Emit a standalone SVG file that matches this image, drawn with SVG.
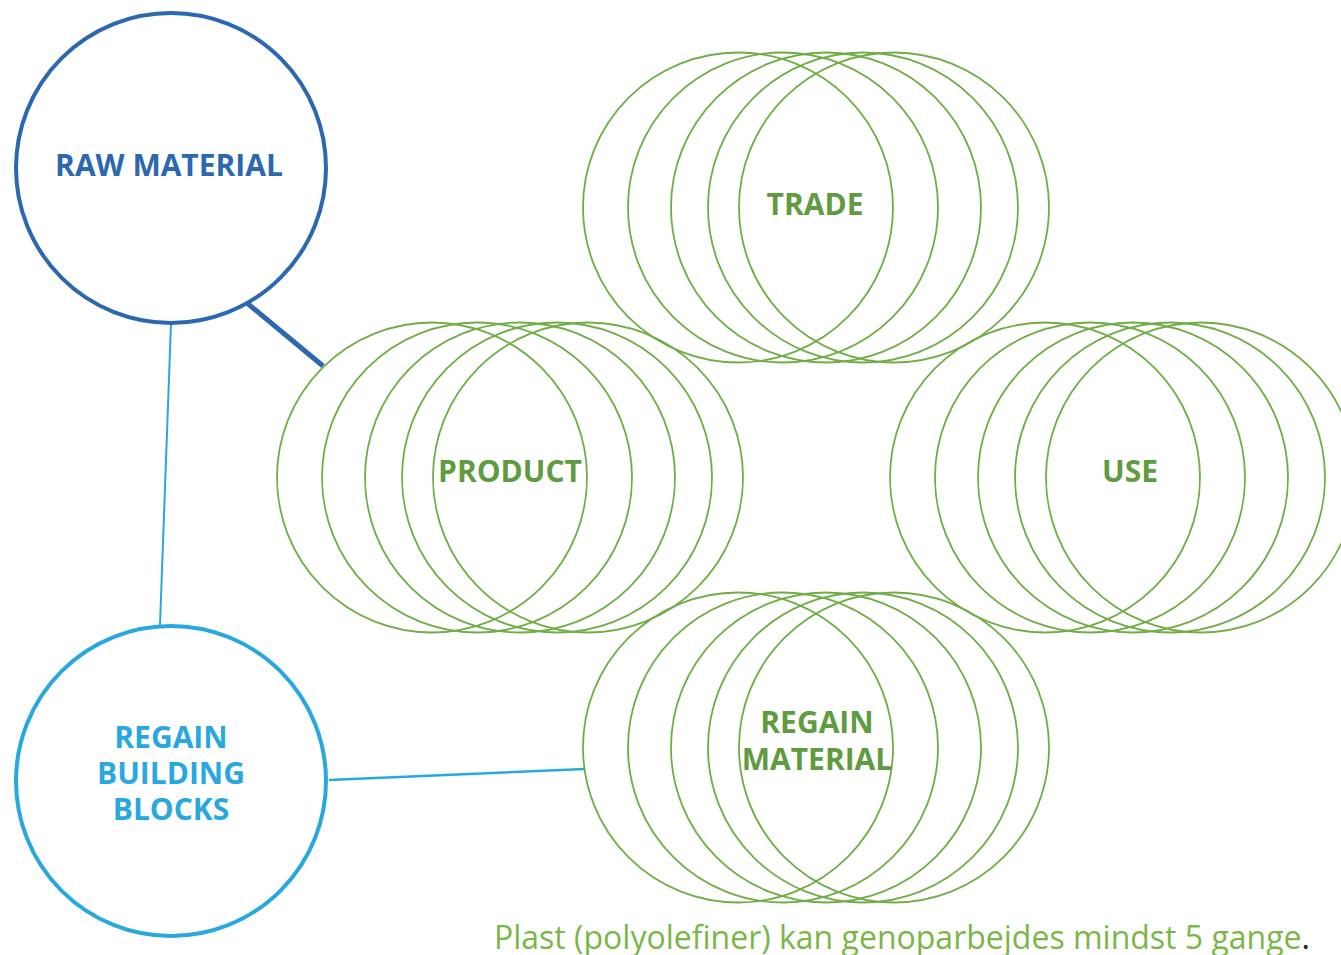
<svg xmlns="http://www.w3.org/2000/svg" width="1341" height="955" viewBox="0 0 1341 955">
<style>
.ring{fill:none;stroke:#70AD47;stroke-width:1.8}
.lbl{font-family:"Open Sans","Noto Sans","DejaVu Sans",sans-serif;font-weight:700;font-size:30px;text-anchor:middle}
.g{fill:#5F9B3F}
.cap{font-family:"Open Sans","Noto Sans","DejaVu Sans",sans-serif;font-size:32px;fill:#7AB648}
</style>
<defs>
<g id="cluster">
<circle class="ring" cx="0" cy="0" r="155"/>
<circle class="ring" cx="45" cy="0" r="155"/>
<circle class="ring" cx="88" cy="0" r="155"/>
<circle class="ring" cx="125" cy="0" r="155"/>
<circle class="ring" cx="156" cy="0" r="155"/>
</g>
</defs>
<rect width="1341" height="955" fill="#fff"/>
<g id="connectors">
<line x1="247" y1="303" x2="323" y2="366" stroke="#2C68B0" stroke-width="5"/>
<line x1="171" y1="323" x2="160" y2="625" stroke="#29A8E0" stroke-width="2"/>
<line x1="329" y1="780" x2="585" y2="769" stroke="#29A8E0" stroke-width="2.5"/>
</g>
<g id="raw-material">
<circle cx="171" cy="168" r="155" fill="none" stroke="#2C68B0" stroke-width="4"/>
<text class="lbl" x="169" y="176" fill="#2C68B0">RAW MATERIAL</text>
</g>
<g id="regain-building-blocks">
<circle cx="171" cy="781" r="155" fill="none" stroke="#29A8E0" stroke-width="4"/>
<text class="lbl" x="171" y="748" fill="#29A8E0">REGAIN</text>
<text class="lbl" x="171" y="784" fill="#29A8E0">BUILDING</text>
<text class="lbl" x="171" y="820" fill="#29A8E0">BLOCKS</text>
</g>
<g id="trade">
<use href="#cluster" x="738" y="207.5"/>
<text class="lbl g" x="815" y="215">TRADE</text>
</g>
<g id="product">
<use href="#cluster" x="432" y="477.5"/>
<text class="lbl g" x="510" y="482">PRODUCT</text>
</g>
<g id="use">
<use href="#cluster" x="1045" y="477.5"/>
<text class="lbl g" x="1130" y="482">USE</text>
</g>
<g id="regain-material">
<use href="#cluster" x="738" y="747.5"/>
<text class="lbl g" x="817" y="733">REGAIN</text>
<text class="lbl g" x="817" y="770">MATERIAL</text>
</g>
<text class="cap" x="494" y="949">Plast (polyolefiner) kan genoparbejdes mindst 5 gange<tspan fill="#222">.</tspan></text>
</svg>
